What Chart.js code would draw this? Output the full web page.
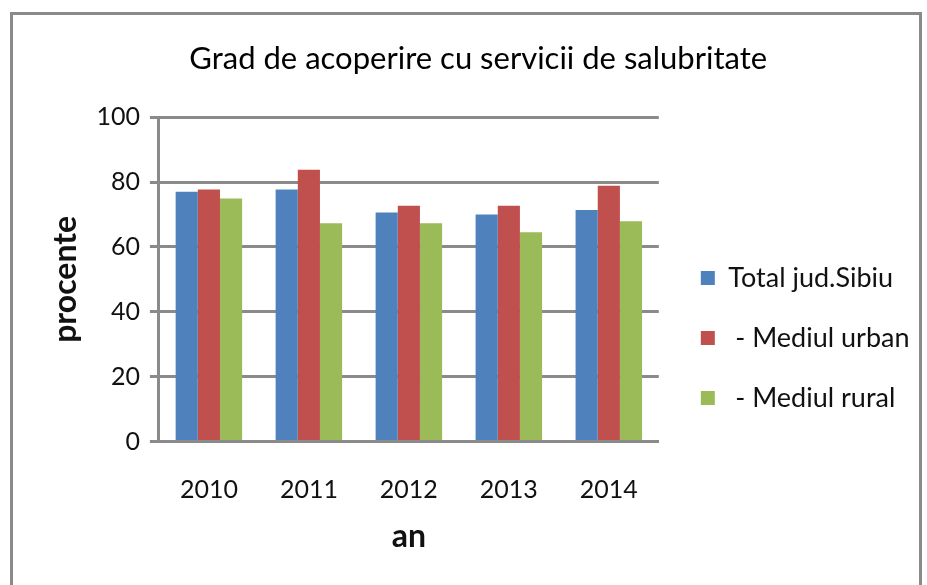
<!DOCTYPE html>
<html>
<head>
<meta charset="utf-8">
<script src="https://cdn.jsdelivr.net/npm/chart.js@4.4.1/dist/chart.umd.min.js"></script>
<style>
  html, body { margin: 0; padding: 0; background: #fff; }
  #wrap { position: relative; width: 927px; height: 585px; }
  #frame { position: absolute; left: 10px; top: 12px; width: 912px; height: 580px; border: 3px solid #8a8a8a; box-sizing: border-box; }
  canvas { position: absolute; left: 0; top: 0; }
</style>
</head>
<body>
<div id="wrap">
  <div id="frame"></div>
  <canvas id="c" width="927" height="585"></canvas>
</div>
<script>
// date
const years = ['2010', '2011', '2012', '2013', '2014'];
const total = [77.0, 77.7, 70.6, 70.0, 71.4];
const urban = [77.7, 83.8, 72.7, 72.7, 78.9];
const rural = [74.9, 67.3, 67.3, 64.5, 67.9];
const seriesNames = ['Total jud.Sibiu', ' - Mediul urban', ' - Mediul rural'];
const yTicks = [0, 20, 40, 60, 80, 100];

const font = "Lato, 'Open Sans', sans-serif";

// muta legenda putin spre dreapta dupa calculul layout-ului
const nudge = {
  id: 'nudge',
  afterLayout(chart) {
    chart.legend.left += 9; chart.legend.right += 9;
  }
};

new Chart(document.getElementById('c'), {
  type: 'bar',
  data: {
    labels: years,
    datasets: [
      { label: seriesNames[0], data: total, backgroundColor: '#4f81bd' },
      { label: seriesNames[1], data: urban, backgroundColor: '#c0504d' },
      { label: seriesNames[2], data: rural, backgroundColor: '#9bbb59' }
    ]
  },
  plugins: [nudge],
  options: {
    responsive: false,
    animation: false,
    layout: { padding: { left: 46, right: 16.5, top: 40, bottom: 29 } },
    datasets: { bar: { categoryPercentage: 0.665, barPercentage: 1.0 } },
    plugins: {
      title: {
        display: true,
        text: 'Grad de acoperire cu servicii de salubritate',
        color: '#000',
        font: { family: font, size: 31, weight: 'normal' },
        padding: { top: 0, bottom: 40 }
      },
      legend: {
        position: 'right',
        maxWidth: 320,
        title: { display: true, text: ' ', font: { size: 10 }, padding: { top: 68, bottom: 0 } },
        labels: {
          color: '#111',
          font: { family: font, size: 27 },
          boxWidth: 14, boxHeight: 14,
          padding: 33
        }
      },
      tooltip: { enabled: false }
    },
    scales: {
      x: {
        grid: { display: false, drawTicks: false },
        border: { display: true, color: '#8a8a8a', width: 3 },
        ticks: { color: '#111', font: { family: font, size: 25 }, padding: 33 },
        title: { display: true, text: 'an', color: '#111', font: { family: font, size: 32, weight: 'bold' }, padding: { top: -20, bottom: 0 } }
      },
      y: {
        min: yTicks[0], max: yTicks[yTicks.length - 1],
        afterBuildTicks: (s) => { s.ticks = yTicks.map(v => ({ value: v })); },
        grid: { color: '#8a8a8a', lineWidth: 3, tickLength: 9 },
        border: { display: true, color: '#8a8a8a', width: 3 },
        ticks: { color: '#111', font: { family: font, size: 25 }, padding: 10 },
        title: { display: true, text: 'procente', color: '#111', font: { family: font, size: 32, weight: 'bold' }, padding: { top: 0, bottom: 2 } }
      }
    }
  }
});
</script>
</body>
</html>
